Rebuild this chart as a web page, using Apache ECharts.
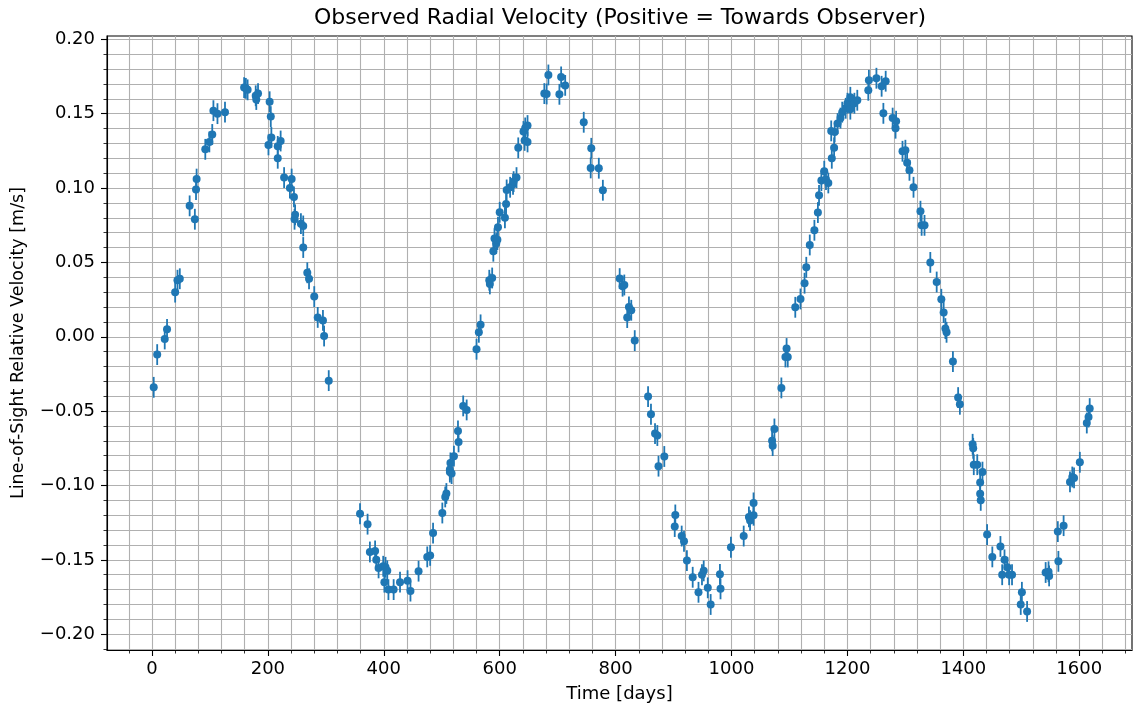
<!DOCTYPE html>
<html>
<head>
<meta charset="utf-8">
<script src="https://cdn.jsdelivr.net/npm/echarts@6/dist/echarts.min.js"></script>
<style>
html,body{margin:0;padding:0;background:#ffffff;}
#chart{width:1133px;height:710px;}
</style>
</head>
<body>
<div id="chart"></div>
<script>
// ---- data ----
const observationDays = [
  3, 9, 22, 26, 40, 44, 48, 65, 74, 76, 77, 92, 99, 104, 106, 113, 126,
  159, 162, 165, 179, 180, 183, 201, 203, 205, 206, 217, 217, 222, 228,
  238, 241, 245, 246, 247, 257, 261, 261, 268, 271, 280, 286, 295, 297, 305,
  359, 372, 376, 385, 387, 391, 399, 401, 403, 406, 408, 417, 428, 441, 446,
  460, 475, 480, 485, 501, 506, 508, 514, 514, 515, 517, 521, 528, 529, 537, 543,
  560, 564, 567, 582, 583, 587, 589, 591, 594, 596, 597, 600, 609, 611, 612,
  618, 623, 624, 629, 632, 641, 643, 644, 648, 648,
  677, 681, 684, 703, 706, 713, 745, 757, 758, 771, 778, 807, 812, 815, 820, 823, 827, 833,
  856, 861, 868, 872, 874, 884, 902, 903, 914, 918, 923, 933, 943, 949, 952, 959, 964,
  980, 981, 999, 1021, 1030, 1032, 1038, 1038, 1070, 1071, 1074, 1086,
  1093, 1095, 1097, 1110, 1119, 1126, 1129, 1135, 1143, 1149, 1151, 1155, 1160, 1163, 1167,
  1172, 1173, 1177, 1178, 1183, 1188, 1191, 1197, 1200, 1205, 1205, 1212, 1217,
  1236, 1237, 1250, 1259, 1262, 1266, 1278, 1283, 1284, 1295, 1300, 1303, 1307, 1314,
  1326, 1328, 1333, 1343, 1354, 1362, 1366, 1369, 1371, 1382, 1391, 1394,
  1416, 1417, 1418, 1424, 1429, 1429, 1430, 1433, 1441, 1450, 1464, 1467, 1471, 1476, 1479, 1484,
  1499, 1501, 1510, 1542, 1547, 1548, 1563, 1564, 1573, 1584, 1588, 1591, 1601, 1613, 1616, 1618
];
const radialVelocity = [
  -0.034, -0.012, -0.0015, 0.005, 0.030, 0.038, 0.039, 0.088, 0.079, 0.099, 0.106, 0.126, 0.131, 0.136, 0.152, 0.150, 0.151,
  0.1675, 0.167, 0.166, 0.162, 0.1595, 0.1635, 0.129, 0.158, 0.148, 0.134, 0.128, 0.120, 0.1316, 0.107,
  0.100, 0.106, 0.094, 0.079, 0.082, 0.076, 0.0745, 0.060, 0.043, 0.039, 0.027, 0.013, 0.011, 0.0005, -0.0295,
  -0.119, -0.126, -0.1447, -0.144, -0.150, -0.1554, -0.1543, -0.165, -0.155, -0.1574, -0.170, -0.170, -0.165, -0.164, -0.171,
  -0.1576, -0.148, -0.147, -0.132, -0.1185, -0.1077, -0.1054, -0.0893, -0.091, -0.0848, -0.092, -0.0803, -0.0633, -0.0707, -0.0465, -0.0492,
  -0.0084, 0.003, 0.008, 0.038, 0.0355, 0.0395, 0.0575, 0.066, 0.0627, 0.0653, 0.0736, 0.0837, 0.080, 0.0893, 0.0987,
  0.1005, 0.1025, 0.1043, 0.107, 0.127, 0.138, 0.132, 0.1404, 0.142, 0.131,
  0.1635, 0.1632, 0.176, 0.163, 0.1747, 0.169, 0.1442, 0.1135, 0.1267, 0.1133, 0.0985, 0.0391, 0.034, 0.0348, 0.0129, 0.020, 0.0178, -0.0026,
  -0.0402, -0.0521, -0.0651, -0.0664, -0.087, -0.0805, -0.1276, -0.1198, -0.134, -0.1375, -0.1505, -0.1617, -0.1718, -0.160, -0.1574, -0.1688, -0.180,
  -0.1597, -0.1695, -0.1415, -0.134, -0.1211, -0.1236, -0.1117, -0.120, -0.070, -0.0732, -0.062, -0.0344,
  -0.0136, -0.0079, -0.0136, 0.0198, 0.0254, 0.036, 0.0467, 0.0617, 0.0716, 0.0835, 0.0951, 0.105, 0.1113, 0.1057, 0.1034,
  0.1384, 0.120, 0.127, 0.1377, 0.1433, 0.147, 0.151, 0.1536, 0.157, 0.161, 0.153, 0.157, 0.159,
  0.1657, 0.1724, 0.1738, 0.1684, 0.1502, 0.1718, 0.147, 0.1402, 0.1449, 0.1247, 0.1254, 0.117, 0.1119, 0.1005,
  0.0844, 0.0749, 0.0749, 0.050, 0.0368, 0.0252, 0.0163, 0.0055, 0.003, -0.0167, -0.0409, -0.0454,
  -0.0723, -0.075, -0.086, -0.086, -0.098, -0.1055, -0.110, -0.091, -0.133, -0.148, -0.141, -0.160, -0.150, -0.155, -0.160, -0.160,
  -0.180, -0.1718, -0.1847, -0.1585, -0.158, -0.1608, -0.131, -0.151, -0.127, -0.0976, -0.0943, -0.0949, -0.0844, -0.058, -0.054, -0.0483
];
const velocityError = 0.007;

const xMajorTicks = [0, 200, 400, 600, 800, 1000, 1200, 1400, 1600];
const yMajorTicks = [-0.20, -0.15, -0.10, -0.05, 0.00, 0.05, 0.10, 0.15, 0.20];

const titleText = 'Observed Radial Velocity (Positive = Towards Observer)';
const xName = 'Time [days]';
const yName = 'Line-of-Sight Relative Velocity [m/s]';

// ---- axis setup ----
const X_MIN = -77.6, X_MAX = 1691;
const Y_MIN = -0.2106, Y_MAX = 0.2022;
const xMinorTicks = [];
for (let v = -40; v <= 1680; v += 40) xMinorTicks.push(v);
const yMinorTicks = [];
for (let k = -21; k <= 20; k++) yMinorTicks.push(k / 100);

const FONT = 'DejaVu Sans';
const BLUE = '#1f77b4';
const TICK_FS = 18;

const pointData = observationDays.map((d, i) => [d, radialVelocity[i]]);
const errData = observationDays.map((d, i) => [d, radialVelocity[i] - velocityError, radialVelocity[i] + velocityError]);

function fmtY(v) {
  const s = Math.abs(v).toFixed(2);
  return (v < -1e-9 ? '\u2212' : '') + s;
}

const chart = echarts.init(document.getElementById('chart'), null, {renderer: 'canvas'});
chart.setOption({
  animation: false,
  backgroundColor: '#ffffff',
  title: {
    text: titleText,
    left: 620,
    top: 7,
    padding: 0,
    textAlign: 'center',
    textStyle: {fontFamily: FONT, fontSize: 22, fontWeight: 'normal', color: '#000'}
  },
  grid: {
    left: 107, top: 36, right: 1, bottom: 60,
    show: true, borderColor: '#000', borderWidth: 1.1, backgroundColor: 'transparent',
    containLabel: false
  },
  xAxis: [
    {
      type: 'value', min: X_MIN, max: X_MAX, position: 'bottom',
      name: xName, nameLocation: 'middle', nameGap: 35,
      nameTextStyle: {fontFamily: FONT, fontSize: TICK_FS, color: '#000'},
      axisLine: {show: true, onZero: false, lineStyle: {color: '#000', width: 1.1}},
      axisTick: {show: true, customValues: xMinorTicks, length: 3.5, lineStyle: {color: '#000', width: 0.8}},
      axisLabel: {show: true, customValues: xMajorTicks, margin: 10,
        fontFamily: FONT, fontSize: TICK_FS, color: '#000', formatter: v => String(v)},
      splitLine: {show: true, lineStyle: {color: '#b0b0b0', width: 1.1}}
    },
    {
      type: 'value', min: X_MIN, max: X_MAX, position: 'bottom', gridIndex: 0,
      axisLine: {show: false, onZero: false},
      axisTick: {show: true, customValues: xMajorTicks, length: 6, lineStyle: {color: '#000', width: 1.1}},
      axisLabel: {show: false},
      splitLine: {show: false}
    }
  ],
  yAxis: [
    {
      type: 'value', min: Y_MIN, max: Y_MAX, position: 'left',
      name: yName, nameLocation: 'middle', nameGap: 80, nameRotate: 90,
      nameTextStyle: {fontFamily: FONT, fontSize: 17.5, color: '#000'},
      axisLine: {show: true, onZero: false, lineStyle: {color: '#000', width: 1.1}},
      axisTick: {show: true, customValues: yMinorTicks, length: 3.5, lineStyle: {color: '#000', width: 0.8}},
      axisLabel: {show: true, customValues: yMajorTicks, margin: 12,
        fontFamily: FONT, fontSize: TICK_FS, color: '#000', formatter: fmtY},
      splitLine: {show: true, lineStyle: {color: '#b0b0b0', width: 1.1}}
    },
    {
      type: 'value', min: Y_MIN, max: Y_MAX, position: 'left', gridIndex: 0,
      axisLine: {show: false, onZero: false},
      axisTick: {show: true, customValues: yMajorTicks, length: 6, lineStyle: {color: '#000', width: 1.1}},
      axisLabel: {show: false},
      splitLine: {show: false}
    }
  ],
  series: [
    {
      type: 'custom',
      name: 'errors',
      xAxisIndex: 0, yAxisIndex: 0,
      data: errData,
      encode: {x: 0, y: [1, 2]},
      z: 3,
      silent: true,
      renderItem: function (params, api) {
        const x = api.value(0);
        const lo = api.coord([x, api.value(1)]);
        const hi = api.coord([x, api.value(2)]);
        return {
          type: 'line',
          shape: {x1: lo[0], y1: lo[1], x2: hi[0], y2: hi[1]},
          style: {stroke: BLUE, lineWidth: 1.8}
        };
      }
    },
    {
      type: 'scatter',
      name: 'Radial velocity',
      xAxisIndex: 0, yAxisIndex: 0,
      data: pointData,
      symbol: 'circle',
      symbolSize: 8,
      itemStyle: {color: BLUE, opacity: 1},
      z: 4,
      silent: true
    }
  ]
});
</script>
</body>
</html>
